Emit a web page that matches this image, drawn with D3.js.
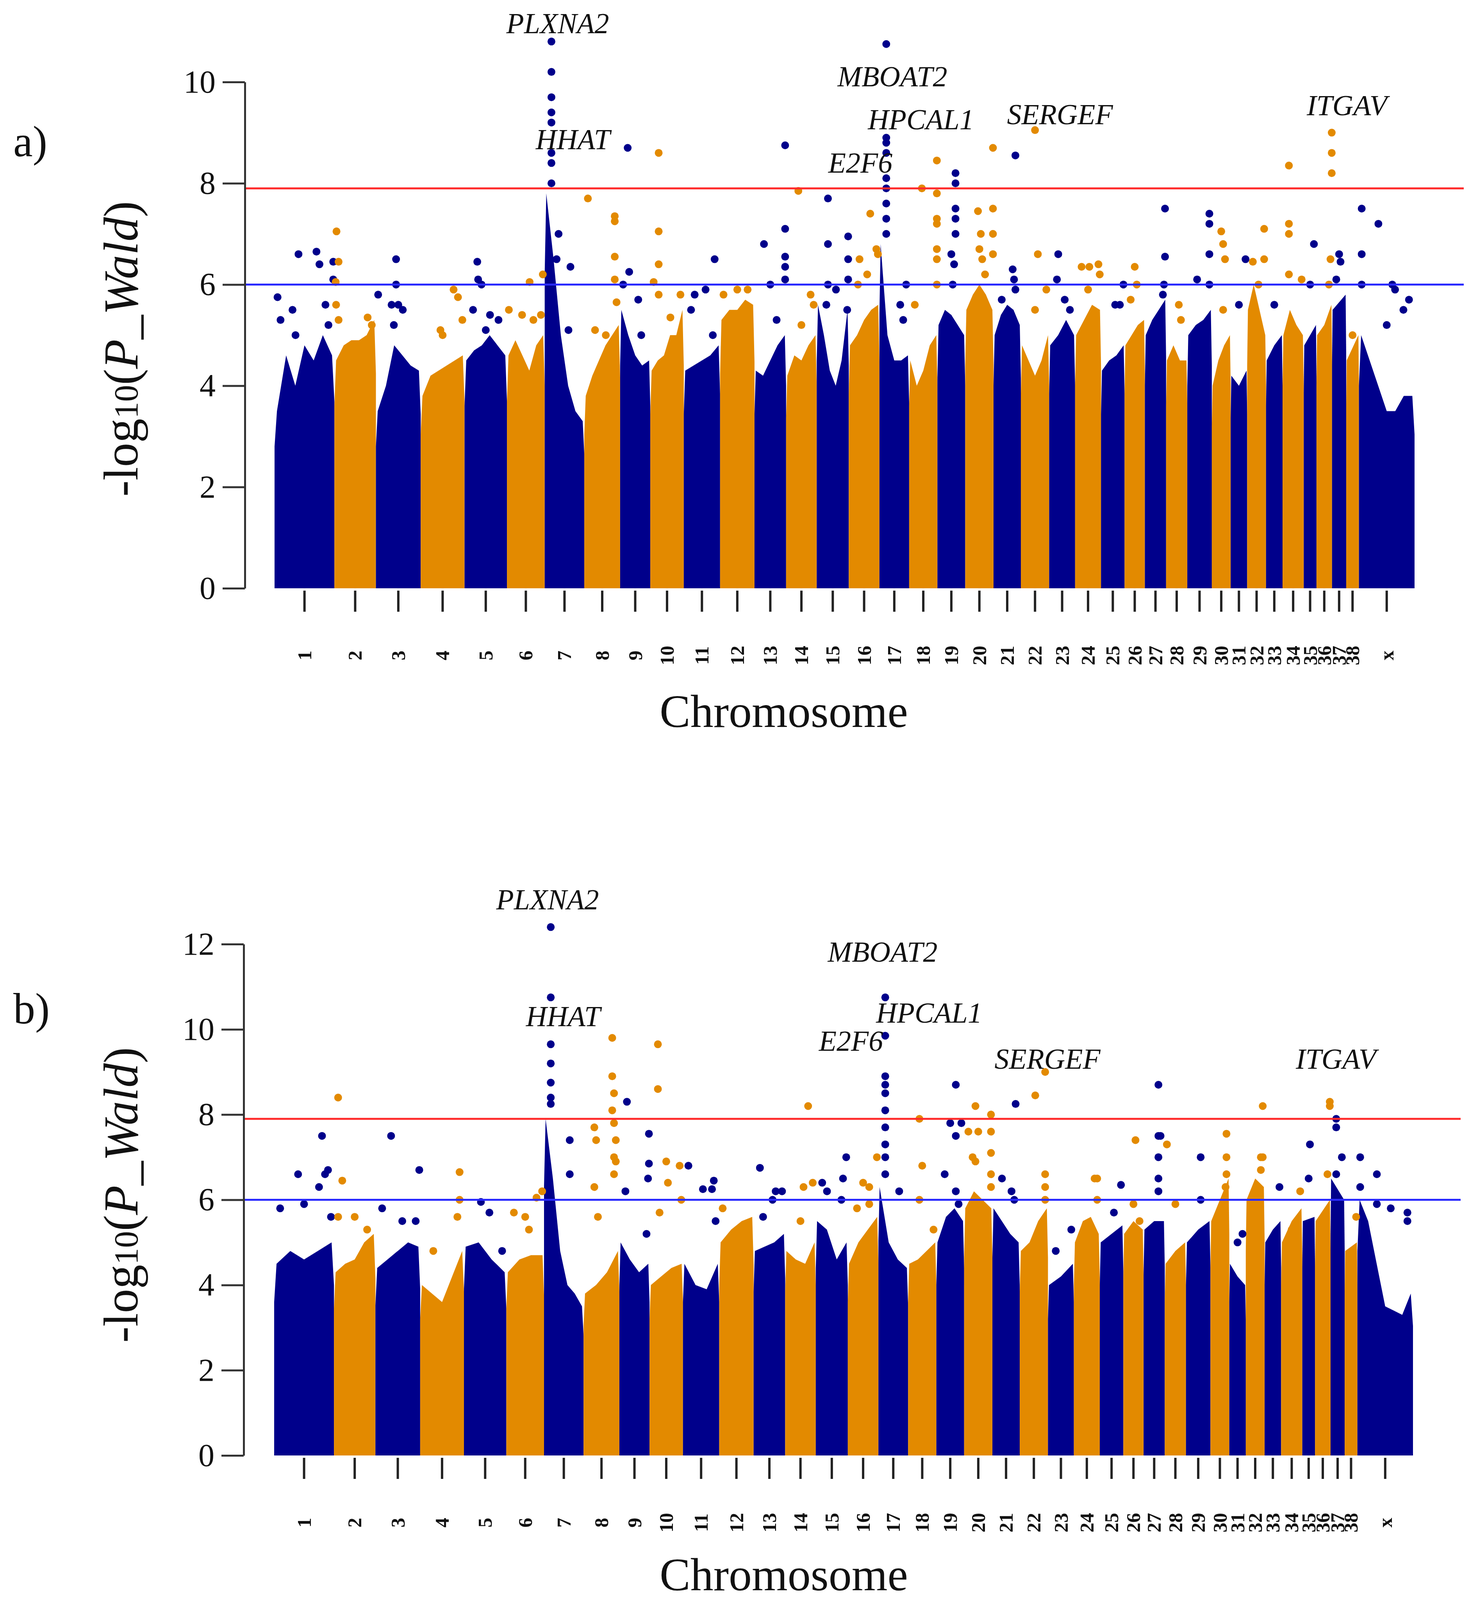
<!DOCTYPE html>
<html><head><meta charset="utf-8">
<script src="https://cdn.jsdelivr.net/npm/d3@7"></script>
<style>body{margin:0;background:#fff}svg{display:block}</style>
</head><body>
<svg id="chart" width="3764" height="4111"></svg>
<script>
const chroms = ['1','2','3','4','5','6','7','8','9','10','11','12','13','14','15','16','17','18','19','20',
  '21','22','23','24','25','26','27','28','29','30','31','32','33','34','35','36','37','38','x'];
const chromLen = [127,88,95,93,90,80,84,76,64,71,77,73,67,65,68,65,63,60,59,60,58,60,55,55,50,43,45,45,52,40,35,40,35,45,27,33,30,27,118];

// top of the dense point cloud per chromosome, -log10 p
const bodyA = [[3.5,4.6,4.0,4.8,4.5,5.0,4.6],[4.5,4.8,4.9,4.9,5.0,5.3],[3.5,4.0,4.8,4.6,4.4,4.3],[3.8,4.2,4.3,4.4,4.5,4.6],
  [4.5,4.7,4.8,5.0,4.8,4.6],[4.6,4.9,4.6,4.3,4.8,5.0],[7.8,6.5,5.0,4.0,3.5,3.3],[3.8,4.2,4.5,4.8,5.0,5.2],[5.5,5.0,4.6,4.4,4.5],
  [4.3,4.5,4.6,5.0,5.0,5.5],[4.3,4.4,4.5,4.6,4.8],[5.3,5.5,5.5,5.7,5.6],[4.3,4.2,4.5,4.8,5.0],[4.2,4.6,4.5,4.8,5.0],
  [5.6,5.0,4.3,4.0,4.5,5.5],[4.8,5.0,5.3,5.5,5.6],[6.8,5.0,4.5,4.5,4.6],[4.5,4.0,4.3,4.8,5.0],[5.2,5.5,5.4,5.2,5.0],
  [5.5,5.8,6.0,5.8,5.5],[5.0,5.4,5.6,5.5,5.2],[4.8,4.5,4.2,4.5,5.0],[4.8,5.0,5.3,5.0],[5.0,5.3,5.6,5.5],[4.3,4.5,4.6,4.8],
  [4.8,5.0,5.2,5.3],[5.0,5.3,5.5,5.7],[4.5,4.8,4.5,4.5],[5.0,5.2,5.3,5.5],[4.0,4.5,4.8,5.0],[4.2,4.0,4.3],[5.5,6.0,5.5,5.0],
  [4.5,4.8,5.0],[5.0,5.5,5.2,5.0],[4.8,5.2],[5.0,5.2,5.6],[5.5,5.8],[4.5,5.0],[5.0,4.5,4.0,3.5,3.5,3.8,3.8]];

// isolated hits per chromosome: [relative position, -log10 p]
const hitsA = [
  [[0.05,5.75],[0.1,5.3],[0.3,5.5],[0.4,6.6],[0.35,5.0],[0.7,6.65],[0.75,6.4],[0.85,5.6],[0.98,6.45],[0.98,6.1],[0.9,5.2]],
  [[0.05,7.05],[0.1,6.45],[0.03,6.05],[0.04,5.6],[0.1,5.3],[0.8,5.35],[0.9,5.2]],
  [[0.05,5.8],[0.35,5.6],[0.45,6.5],[0.45,6.0],[0.5,5.6],[0.6,5.5],[0.4,5.2]],
  [[0.45,5.1],[0.5,5.0],[0.75,5.9],[0.85,5.75],[0.95,5.3]],
  [[0.3,6.45],[0.32,6.1],[0.4,6.0],[0.2,5.5],[0.6,5.4],[0.8,5.3],[0.5,5.1]],
  [[0.05,5.5],[0.4,5.4],[0.6,6.05],[0.7,5.3],[0.95,6.2],[0.9,5.4]],
  [[0.17,10.8],[0.17,10.2],[0.17,9.7],[0.17,9.4],[0.17,9.2],[0.17,8.6],[0.17,8.4],[0.17,8.0],[0.35,7.0],[0.65,6.35],[0.3,6.5],[0.6,5.1]],
  [[0.1,7.7],[0.85,7.35],[0.85,7.25],[0.85,6.55],[0.85,6.1],[0.9,5.65],[0.3,5.1],[0.6,5.0]],
  [[0.1,6.0],[0.25,8.7],[0.3,6.25],[0.6,5.7],[0.7,5.0]],
  [[0.25,8.6],[0.25,7.05],[0.25,6.4],[0.25,5.8],[0.1,6.05],[0.6,5.35],[0.9,5.8]],
  [[0.2,5.5],[0.3,5.8],[0.6,5.9],[0.85,6.5],[0.8,5.0]],
  [[0.1,5.8],[0.5,5.9],[0.8,5.9]],
  [[0.3,6.8],[0.5,6.0],[0.97,8.75],[0.97,7.1],[0.97,6.55],[0.97,6.35],[0.97,6.1],[0.7,5.3]],
  [[0.4,7.85],[0.8,5.8],[0.9,5.6],[0.5,5.2]],
  [[0.35,7.7],[0.35,6.8],[0.35,6.0],[0.3,5.6],[0.6,5.9],[0.98,6.95],[0.98,6.5],[0.98,6.1],[0.95,5.5]],
  [[0.3,6.0],[0.35,6.5],[0.7,7.4],[0.9,6.7],[0.95,6.6],[0.6,6.2]],
  [[0.23,10.75],[0.23,8.9],[0.23,8.8],[0.23,8.6],[0.23,8.1],[0.23,7.9],[0.23,7.6],[0.23,7.3],[0.23,7.0],[0.9,6.0],[0.7,5.6],[0.8,5.3]],
  [[0.45,7.9],[0.98,8.45],[0.98,7.8],[0.98,7.3],[0.98,7.2],[0.98,6.7],[0.98,6.5],[0.98,6.0],[0.2,5.6]],
  [[0.65,8.2],[0.65,8.0],[0.65,7.5],[0.65,7.3],[0.65,7.0],[0.5,6.6],[0.6,6.4],[0.55,6.0]],
  [[0.45,7.45],[0.55,7.0],[0.5,6.7],[0.6,6.5],[0.98,8.7],[0.98,7.5],[0.98,7.0],[0.98,6.6],[0.7,6.2]],
  [[0.8,8.55],[0.7,6.3],[0.75,6.1],[0.8,5.9],[0.3,5.7]],
  [[0.5,9.05],[0.6,6.6],[0.9,5.9],[0.5,5.5]],
  [[0.35,6.6],[0.3,6.1],[0.6,5.7],[0.8,5.5]],
  [[0.25,6.35],[0.55,6.35],[0.9,6.4],[0.95,6.2],[0.5,5.9]],
  [[0.6,5.6],[0.8,5.6],[0.95,6.0]],
  [[0.5,6.35],[0.6,6.0],[0.3,5.7]],
  [[0.95,7.5],[0.95,6.55],[0.9,6.0],[0.85,5.8]],
  [[0.6,5.6],[0.7,5.3]],
  [[0.9,7.4],[0.9,7.2],[0.9,6.6],[0.9,6.0],[0.4,6.1]],
  [[0.5,7.05],[0.6,6.8],[0.7,6.5],[0.6,5.5]],
  [[0.9,6.5],[0.5,5.6]],
  [[0.9,7.1],[0.9,6.5],[0.3,6.45],[0.6,6.0]],
  [[0.5,5.6]],
  [[0.3,8.35],[0.3,7.2],[0.3,7.0],[0.3,6.2],[0.9,6.1]],
  [[0.8,6.8],[0.5,6.0]],
  [[0.98,9.0],[0.98,8.6],[0.98,8.2],[0.9,6.5],[0.8,6.0]],
  [[0.5,6.6],[0.6,6.45],[0.3,6.1]],
  [[0.5,5.0]],
  [[0.05,7.5],[0.05,6.6],[0.05,6.0],[0.35,7.2],[0.6,6.0],[0.65,5.9],[0.9,5.7],[0.5,5.2],[0.8,5.5]]];

const bodyB = [[4.5,4.8,4.6,4.8,5.0],[4.3,4.5,4.6,5.0,5.2],[4.4,4.6,4.8,5.0,4.9],[4.0,3.8,3.6,4.2,4.8],[4.9,5.0,4.6,4.3],
  [4.3,4.6,4.7,4.7],[7.9,6.5,4.8,4.0,3.8,3.5],[3.8,4.0,4.3,4.8],[5.0,4.6,4.3,4.5],[4.0,4.2,4.4,4.5],[4.5,4.0,3.9,4.5],
  [5.0,5.3,5.5,5.6],[4.8,4.9,5.0,5.2],[4.8,4.6,4.5,5.0],[5.5,5.3,4.6,5.0],[4.5,5.0,5.3,5.6],[6.3,5.0,4.6,4.4],
  [4.5,4.6,4.8,5.0],[5.0,5.6,5.8,5.5],[5.8,6.2,6.0,5.8],[5.8,5.5,5.2,5.0],[4.8,5.0,5.5,5.8],[4.0,4.2,4.5],[5.0,5.5,5.6,5.2],
  [5.0,5.2,5.4],[5.2,5.5,5.3],[5.3,5.5,5.5],[4.5,4.8,5.0],[5.0,5.3,5.5],[5.5,6.0,6.5],[4.5,4.2,4.0],[6.0,6.5,6.3],
  [5.0,5.3,5.5],[5.0,5.5,5.8],[5.5,5.6],[5.5,6.0],[6.5,6.0],[4.8,5.0],[6.0,5.5,4.5,3.5,3.4,3.3,3.8]];

const hitsB = [
  [[0.1,5.8],[0.4,6.6],[0.5,5.9],[0.75,6.3],[0.85,6.6],[0.8,7.5],[0.9,6.7],[0.95,5.6]],
  [[0.1,8.4],[0.2,6.45],[0.1,5.6],[0.5,5.6],[0.8,5.3]],
  [[0.35,7.5],[0.15,5.8],[0.6,5.5],[0.9,5.5],[0.98,6.7]],
  [[0.3,4.8],[0.9,6.65],[0.9,6.0],[0.85,5.6]],
  [[0.4,5.95],[0.6,5.7],[0.9,4.8]],
  [[0.2,5.7],[0.5,5.6],[0.8,6.05],[0.95,6.2],[0.6,5.3]],
  [[0.17,12.4],[0.17,10.75],[0.17,9.65],[0.17,9.2],[0.17,8.75],[0.17,8.4],[0.17,8.25],[0.65,7.4],[0.65,6.6]],
  [[0.8,9.8],[0.8,8.9],[0.85,8.5],[0.8,8.1],[0.85,7.8],[0.9,7.4],[0.85,7.0],[0.9,6.9],[0.85,6.6],[0.3,7.7],[0.35,7.4],[0.3,6.3],[0.4,5.6]],
  [[0.25,8.3],[0.2,6.2],[0.98,7.55],[0.98,6.85],[0.95,6.5],[0.9,5.2]],
  [[0.25,9.65],[0.25,8.6],[0.5,6.9],[0.55,6.4],[0.9,6.8],[0.95,6.0],[0.3,5.7]],
  [[0.15,6.8],[0.55,6.25],[0.85,6.45],[0.8,6.25],[0.9,5.5]],
  [[0.1,5.8]],
  [[0.2,6.75],[0.3,5.6],[0.7,6.2],[0.9,6.2],[0.6,6.0]],
  [[0.75,8.2],[0.6,6.3],[0.9,6.4],[0.5,5.5]],
  [[0.2,6.4],[0.35,6.2],[0.95,7.0],[0.85,6.5],[0.8,6.0]],
  [[0.5,6.4],[0.7,6.3],[0.95,7.0],[0.7,5.9],[0.3,5.8]],
  [[0.23,10.75],[0.23,9.85],[0.23,8.9],[0.23,8.7],[0.23,8.5],[0.23,8.1],[0.23,7.7],[0.23,7.3],[0.23,7.0],[0.23,6.6],[0.7,6.2]],
  [[0.4,7.9],[0.5,6.8],[0.4,6.0],[0.9,5.3]],
  [[0.7,8.7],[0.5,7.8],[0.9,7.8],[0.7,7.5],[0.3,6.6],[0.7,6.2],[0.8,5.9]],
  [[0.15,7.6],[0.3,7.0],[0.4,8.2],[0.5,7.6],[0.4,6.9],[0.95,8.0],[0.95,7.6],[0.95,7.1],[0.95,6.6],[0.95,6.3]],
  [[0.85,8.25],[0.35,6.5],[0.7,6.2],[0.8,6.0]],
  [[0.9,9.0],[0.55,8.45],[0.9,6.6],[0.9,6.3],[0.9,6.0]],
  [[0.3,4.8],[0.9,5.3]],
  [[0.8,6.5],[0.9,6.5],[0.9,6.0]],
  [[0.9,6.35],[0.6,5.7]],
  [[0.6,7.4],[0.5,5.9],[0.8,5.5]],
  [[0.7,8.7],[0.7,7.5],[0.8,7.5],[0.7,7.0],[0.7,6.5],[0.7,6.2]],
  [[0.1,7.3],[0.5,5.9]],
  [[0.6,7.0],[0.6,6.0]],
  [[0.85,7.55],[0.85,7.0],[0.85,6.6],[0.8,6.3]],
  [[0.5,5.0],[0.8,5.2]],
  [[0.9,8.2],[0.8,7.0],[0.9,7.0],[0.8,6.7]],
  [[0.9,6.3]],
  [[0.9,6.2],[0.5,5.3]],
  [[0.6,7.3],[0.5,6.5]],
  [[0.95,8.3],[0.95,8.2],[0.8,6.6]],
  [[0.4,7.9],[0.4,7.7],[0.8,7.0],[0.4,6.6]],
  [[0.9,5.6]],
  [[0.05,7.0],[0.05,6.3],[0.35,6.6],[0.35,5.9],[0.6,5.8],[0.9,5.7],[0.9,5.5]]];

// gene annotations: [name, x, baseline y] in page pixels
const genesA = [['PLXNA2',1428,85],['HHAT',1467,382],['MBOAT2',2285,221],['HPCAL1',2358,331],['E2F6',2203,442],['SERGEF',2714,318],['ITGAV',3449,295]];
const genesB = [['PLXNA2',1402,2328],['HHAT',1442,2627],['MBOAT2',2260,2462],['HPCAL1',2379,2618],['E2F6',2179,2690],['SERGEF',2682,2736],['ITGAV',3421,2736]];

const BLUE = '#00008b', ORANGE = '#e38a00';
const SERIF = "'Liberation Serif','DejaVu Serif',serif";
const starts = d3.cumsum([0, ...chromLen]);
const total = starts[starts.length - 1];
const svg = d3.select('#chart');

function panel(cfg) {
  const x = d3.scaleLinear().domain([0, total]).range([cfg.x0, cfg.x1]);
  const y = d3.scaleLinear().domain([0, cfg.ymax]).range([cfg.yb, cfg.yt]);
  const g = svg.append('g');

  // dense cloud per chromosome as a filled block
  const area = d3.area().x(d => x(d[0])).y0(y(0)).y1(d => y(d[1])).curve(d3.curveLinear);
  cfg.body.forEach((prof, i) => {
    const s = starts[i], L = chromLen[i];
    const pts = [[s, 0]].concat(prof.map((v, k) => [s + L * (0.04 + 0.92 * k / (prof.length - 1)), v]), [[s + L, 0]]);
    pts.splice(1, 0, [s, prof[0] * 0.8]);
    pts.splice(pts.length - 1, 0, [s + L, prof[prof.length - 1] * 0.8]);
    g.append('path').attr('d', area(pts)).attr('fill', i % 2 ? ORANGE : BLUE);
  });

  // isolated hits
  cfg.hits.forEach((arr, i) => {
    g.selectAll(null).data(arr).join('circle')
      .attr('cx', d => x(starts[i] + chromLen[i] * d[0]))
      .attr('cy', d => y(d[1])).attr('r', 10)
      .attr('fill', i % 2 ? ORANGE : BLUE);
  });

  // thresholds
  g.append('line').attr('x1', cfg.ax).attr('x2', cfg.lx).attr('y1', y(7.9)).attr('y2', y(7.9))
    .attr('stroke', '#ff2a2a').attr('stroke-width', 5);
  g.append('line').attr('x1', cfg.ax).attr('x2', cfg.lx).attr('y1', y(6)).attr('y2', y(6))
    .attr('stroke', '#2a2aff').attr('stroke-width', 5);

  // y axis
  const yAxis = g.append('g').attr('transform', `translate(${cfg.ax},0)`)
    .call(d3.axisLeft(y).tickValues(d3.range(0, cfg.ymax + 1, 2)).tickSize(57).tickPadding(18).tickSizeOuter(0));
  yAxis.select('.domain').attr('stroke', '#333').attr('stroke-width', 5);
  yAxis.selectAll('.tick line').attr('stroke', '#333').attr('stroke-width', 5);
  yAxis.selectAll('text').attr('font-family', SERIF).attr('font-size', 82).attr('fill', '#111');

  // chromosome ticks and labels
  const mids = chroms.map((c, i) => starts[i] + chromLen[i] / 2);
  g.selectAll(null).data(mids).join('line')
    .attr('x1', d => x(d)).attr('x2', d => x(d)).attr('y1', cfg.yb + 6).attr('y2', cfg.yb + 60)
    .attr('stroke', '#222').attr('stroke-width', 6);
  g.selectAll(null).data(chroms).join('text')
    .attr('transform', (d, i) => `translate(${x(mids[i])},${cfg.yb + 172}) rotate(-90)`)
    .attr('text-anchor', 'middle').attr('dominant-baseline', 'central')
    .attr('font-family', SERIF).attr('font-weight', 'bold').attr('font-size', 50).attr('fill', '#111')
    .text(d => d);

  g.append('text').attr('x', 2007).attr('y', cfg.yb + cfg.chromDy).attr('text-anchor', 'middle')
    .attr('font-family', SERIF).attr('font-size', 118).attr('fill', '#111').text('Chromosome');

  // y title
  const yt = g.append('text').attr('transform', `translate(352,${cfg.ymid}) rotate(-90)`)
    .attr('text-anchor', 'middle').attr('font-family', SERIF).attr('font-size', 124).attr('fill', '#111');
  yt.append('tspan').text('-log');
  yt.append('tspan').attr('font-size', 86).text('10');
  yt.append('tspan').text('(');
  yt.append('tspan').attr('font-style', 'italic').text('P_Wald');
  yt.append('tspan').text(')');

  g.append('text').attr('x', 34).attr('y', cfg.tagY).attr('font-family', SERIF).attr('font-size', 112)
    .attr('fill', '#111').text(cfg.tag);

  g.selectAll(null).data(cfg.genes).join('text')
    .attr('x', d => d[1]).attr('y', d => d[2]).attr('text-anchor', 'middle')
    .attr('font-family', SERIF).attr('font-style', 'italic').attr('font-size', 74).attr('fill', '#111')
    .text(d => d[0]);
}

panel({x0: 703, x1: 3622, yb: 1506, yt: 210, ymax: 10, ax: 627, lx: 3748, ymid: 893, chromDy: 355,
  body: bodyA, hits: hitsA, genes: genesA, tag: 'a)', tagY: 400});
panel({x0: 702, x1: 3618, yb: 3726, yt: 2417, ymax: 12, ax: 624, lx: 3740, ymid: 3059, chromDy: 345,
  body: bodyB, hits: hitsB, genes: genesB, tag: 'b)', tagY: 2620});
</script>
</body></html>
